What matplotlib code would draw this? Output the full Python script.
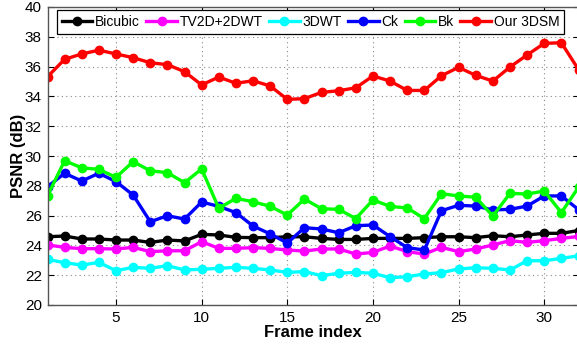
import matplotlib
matplotlib.use("Agg")
import matplotlib.pyplot as plt

plt.rcParams['font.family'] = ['Liberation Sans', 'DejaVu Sans']

frames = list(range(1, 33))

bicubic = [24.58, 24.63, 24.43, 24.43, 24.36, 24.36, 24.20, 24.36, 24.30, 24.74,
           24.70, 24.54, 24.52, 24.52, 24.58, 24.58, 24.47, 24.40, 24.40, 24.47,
           24.47, 24.47, 24.52, 24.58, 24.58, 24.52, 24.65, 24.58, 24.70, 24.81,
           24.81, 25.00]
tv2d = [24.03, 23.87, 23.78, 23.78, 23.76, 23.87, 23.58, 23.64, 23.64, 24.25,
        23.80, 23.80, 23.85, 23.80, 23.69, 23.62, 23.76, 23.76, 23.42, 23.53,
        23.96, 23.58, 23.42, 23.87, 23.58, 23.76, 24.03, 24.32, 24.20, 24.32,
        24.47, 24.60]
dwt3d = [23.06, 22.84, 22.68, 22.86, 22.30, 22.53, 22.46, 22.64, 22.35, 22.40,
         22.46, 22.53, 22.46, 22.35, 22.19, 22.24, 21.97, 22.13, 22.19, 22.13,
         21.83, 21.90, 22.08, 22.17, 22.42, 22.50, 22.46, 22.35, 22.97, 22.97,
         23.13, 23.30]
ck = [27.94, 28.84, 28.32, 28.84, 28.28, 27.38, 25.59, 25.99, 25.77, 26.91,
      26.62, 26.20, 25.30, 24.77, 24.16, 25.19, 25.10, 24.85, 25.32, 25.37,
      24.59, 23.85, 23.69, 26.33, 26.69, 26.64, 26.38, 26.42, 26.64, 27.32,
      27.32, 26.40]
bk = [27.34, 29.68, 29.21, 29.10, 28.57, 29.62, 29.01, 28.88, 28.21, 29.13,
      26.49, 27.16, 26.93, 26.62, 26.04, 27.11, 26.46, 26.42, 25.80, 27.05,
      26.62, 26.51, 25.80, 27.47, 27.32, 27.23, 25.97, 27.49, 27.45, 27.65,
      26.20, 27.90]
ours = [35.32, 36.49, 36.85, 37.10, 36.85, 36.60, 36.26, 36.13, 35.66, 34.77,
        35.30, 34.88, 35.05, 34.70, 33.80, 33.85, 34.27, 34.38, 34.58, 35.37,
        35.03, 34.40, 34.40, 35.39, 35.95, 35.41, 35.03, 35.97, 36.78, 37.56,
        37.60, 35.80]

series_names = ['Bicubic', 'TV2D+2DWT', '3DWT', 'Ck', 'Bk', 'Our 3DSM']
series_values = [bicubic, tv2d, dwt3d, ck, bk, ours]
colors = ['#000000', '#ff00ff', '#00ffff', '#0000ff', '#00ff00', '#ff0000']

xticks = [5, 10, 15, 20, 25, 30]
yticks = [20, 22, 24, 26, 28, 30, 32, 34, 36, 38, 40]

fig = plt.figure(figsize=(5.77, 3.46), dpi=100)
W, H = 577, 346
ax = fig.add_axes([47.5 / W, (H - 305) / H, 531 / W, 298 / H])

for name, vals, c in zip(series_names, series_values, colors):
    ax.plot(frames, vals, color=c, lw=2.4, marker='o', ms=6, label=name,
            clip_on=True)

ax.set_xlim(1, 32)
ax.set_ylim(20, 40)
ax.set_xticks(xticks)
ax.set_yticks(yticks)
ax.tick_params(direction='in', labelsize=11, length=4, width=0.8,
               top=True, right=True, pad=4)
ax.grid(True, linestyle=(0, (1, 3)), color='#888888', linewidth=0.8)
for s in ax.spines.values():
    s.set_color('#555555')
    s.set_linewidth(1.0)

ax.set_xlabel('Frame index', fontsize=12, fontweight='bold', labelpad=0)
ax.set_ylabel('PSNR (dB)', fontsize=12, fontweight='bold', labelpad=-1)

leg = ax.legend(loc='upper left', bbox_to_anchor=(9.5 / 531, 1 - 3 / 298),
                ncol=6, fontsize=10, frameon=True, fancybox=False,
                handlelength=2.2, handletextpad=0.2, columnspacing=0.45,
                borderpad=0.35, borderaxespad=0)
leg.get_frame().set_edgecolor('#000000')
leg.get_frame().set_linewidth(0.9)
leg.get_frame().set_alpha(1)

fig.savefig('out.png', dpi=100)
